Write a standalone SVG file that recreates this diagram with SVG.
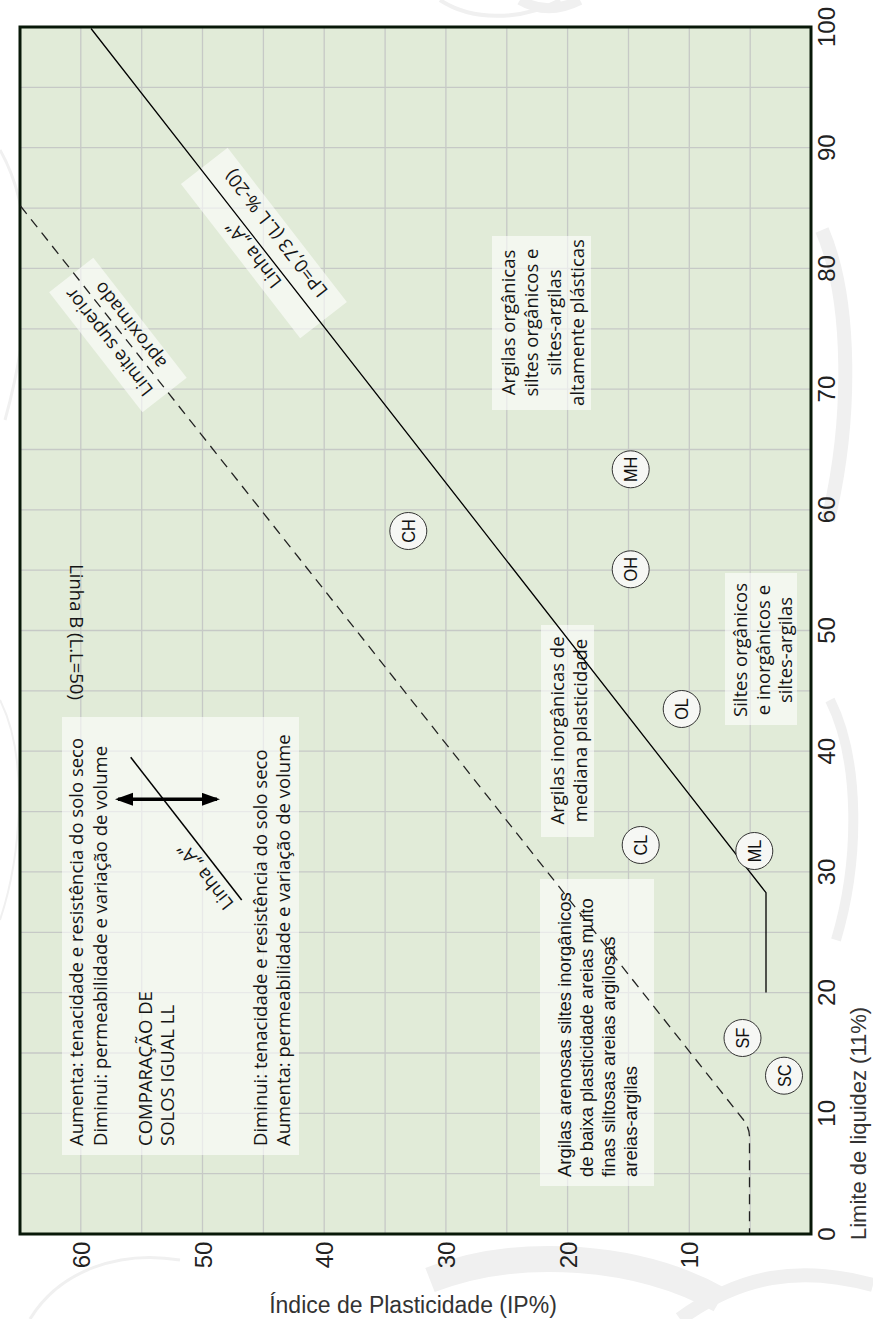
<svg xmlns="http://www.w3.org/2000/svg" width="873" height="1319" viewBox="0 0 873 1319">
<style>
.grid{stroke:#c6c9c6;stroke-width:1.3;fill:none}
.box{fill:#ffffff;fill-opacity:0.6}
.t{font-family:"Open Sans","Noto Sans",sans-serif;font-size:18.5px;fill:#151515}
.ta{font-family:"Liberation Sans",Arial,sans-serif;font-size:18.5px;fill:#151515}
.tick{font-family:"Liberation Sans",Arial,sans-serif;font-size:24px;fill:#222}
.title{font-family:"Liberation Sans",Arial,sans-serif;font-size:23px;fill:#333}
.circ{fill:#f6f7f4;stroke:#333;stroke-width:1}
.cl{font-family:"Liberation Sans",Arial,sans-serif;font-size:18.5px;fill:#111;text-anchor:middle}
.swirl{fill:none;stroke:#f0f0f0}
</style>
<defs>
<marker id="ah" markerUnits="userSpaceOnUse" markerWidth="20" markerHeight="14" refX="15" refY="6.5" orient="auto-start-reverse" viewBox="0 0 20 14">
<path d="M0,0 L18,6.5 L0,13 z" fill="#000"/>
</marker>
</defs>
<rect width="873" height="1319" fill="#ffffff"/>
<g id="background-swirls">
<path class="swirl" stroke-width="4" d="M440,0 C470,20 520,22 560,0"/>
<path class="swirl" stroke-width="10" d="M520,0 C540,12 560,10 580,0"/>
<path class="swirl" stroke-width="3" d="M0,150 C40,220 30,330 5,420"/>
<path class="swirl" stroke-width="2" d="M0,700 C30,760 20,860 0,920"/>
<path class="swirl" stroke-width="14" d="M822,230 C852,300 852,420 828,520"/>
<path class="swirl" stroke-width="10" d="M830,700 C860,760 860,860 836,940"/>
<path class="swirl" stroke-width="26" d="M430,1280 C520,1245 640,1255 720,1300"/>
<path class="swirl" stroke-width="3" d="M30,1319 C60,1270 120,1250 180,1260"/>
<path class="swirl" stroke-width="14" d="M680,1319 C740,1275 800,1265 873,1285"/>
</g>
<g id="plot">
<rect x="20" y="27" width="791" height="1207" fill="#e1ebd8"/>
<g id="grid" class="grid">
<path d="M750.2,27V1234M689.3,27V1234M628.5,27V1234M567.6,27V1234M506.8,27V1234M445.9,27V1234M385.1,27V1234M324.2,27V1234M263.4,27V1234M202.5,27V1234M141.7,27V1234M80.8,27V1234"/>
<path d="M20,1173.7H811M20,1113.3H811M20,1053H811M20,992.6H811M20,932.3H811M20,871.9H811M20,811.6H811M20,751.2H811M20,690.9H811M20,630.5H811M20,570.2H811M20,509.8H811M20,449.5H811M20,389.1H811M20,328.8H811M20,268.4H811M20,208.1H811M20,147.7H811M20,87.4H811"/>
</g>
<rect x="20" y="27" width="791" height="1207" fill="none" stroke="#081808" stroke-width="3"/>
</g>
<g id="axis-ll-labels" class="tick" text-anchor="middle">
<text transform="translate(835,1234) rotate(-90)">0</text>
<text transform="translate(835,1113.3) rotate(-90)">10</text>
<text transform="translate(835,992.6) rotate(-90)">20</text>
<text transform="translate(835,871.9) rotate(-90)">30</text>
<text transform="translate(835,751.2) rotate(-90)">40</text>
<text transform="translate(835,630.5) rotate(-90)">50</text>
<text transform="translate(835,509.8) rotate(-90)">60</text>
<text transform="translate(835,389.1) rotate(-90)">70</text>
<text transform="translate(835,268.4) rotate(-90)">80</text>
<text transform="translate(835,147.7) rotate(-90)">90</text>
<text transform="translate(835,27) rotate(-90)">100</text>
</g>
<g id="axis-ip-labels" class="tick" text-anchor="middle">
<text transform="translate(698.3,1255) rotate(-90)">10</text>
<text transform="translate(576.6,1255) rotate(-90)">20</text>
<text transform="translate(454.9,1255) rotate(-90)">30</text>
<text transform="translate(333.2,1255) rotate(-90)">40</text>
<text transform="translate(211.5,1255) rotate(-90)">50</text>
<text transform="translate(89.8,1255) rotate(-90)">60</text>
</g>
<g id="axis-titles" class="title">
<text x="413" y="1313" text-anchor="middle">Índice de Plasticidade (IP%)</text>
<text transform="translate(866,1240) rotate(-90)" font-size="22">Limite de liquidez (11%)</text>
</g>
<g id="box-comparacao">
<rect class="box" x="62" y="717" width="237" height="438"/>
<g class="t">
<text transform="translate(83,1146) rotate(-90)">Aumenta: tenacidade e resistência do solo seco</text>
<text transform="translate(106.5,1146) rotate(-90)">Diminui: permeabilidade e variação de volume</text>
<text transform="translate(151.5,1146) rotate(-90)">COMPARAÇÃO DE</text>
<text transform="translate(173.5,1146) rotate(-90)">SOLOS IGUAL LL</text>
<text transform="translate(266.5,1146) rotate(-90)">Diminui: tenacidade e resistência do solo seco</text>
<text transform="translate(289.5,1146) rotate(-90)">Aumenta: permeabilidade e variação de volume</text>
</g>
</g>
<g id="box-limite-superior">
<g transform="translate(117.9,335) rotate(232.1)">
<rect class="box" x="-76" y="-28" width="152" height="56"/>
<text class="t" x="0" y="-5" text-anchor="middle">Limite superior</text>
<text class="t" x="0" y="22" text-anchor="middle">aproximado</text>
</g>
</g>
<g id="box-linha-a">
<g transform="translate(263.9,243) rotate(232.3)">
<rect class="box" x="-97.5" y="-29.5" width="195" height="59"/>
<text class="t" x="-3" y="-9" text-anchor="middle">Linha „A“</text>
<text class="t" x="0" y="22" text-anchor="middle">LP=0,73 (L.L %-20)</text>
</g>
</g>
<g id="box-argilas-organicas">
<rect class="box" x="492" y="236" width="99" height="174"/>
<g class="t" text-anchor="middle">
<text transform="translate(515,322.5) rotate(-90)">Argilas orgânicas</text>
<text transform="translate(538,322.5) rotate(-90)">siltes orgânicos e</text>
<text transform="translate(561,322.5) rotate(-90)">siltes-argilas</text>
<text transform="translate(583.5,322.5) rotate(-90)">altamente plásticas</text>
</g>
</g>
<g id="box-argilas-inorganicas">
<rect class="box" x="541" y="625" width="53" height="212"/>
<g class="t" text-anchor="middle">
<text transform="translate(563.5,730.5) rotate(-90)">Argilas inorgânicas de</text>
<text transform="translate(586.5,730.5) rotate(-90)">mediana plasticidade</text>
</g>
</g>
<g id="box-siltes">
<rect class="box" x="725" y="573" width="72" height="152"/>
<g class="t" text-anchor="middle">
<text transform="translate(746.7,650) rotate(-90)">Siltes orgânicos</text>
<text transform="translate(769.5,650) rotate(-90)">e inorgânicos e</text>
<text transform="translate(792,650) rotate(-90)">siltes-argilas</text>
</g>
</g>
<g id="box-argilas-arenosas">
<rect class="box" x="540" y="879" width="114" height="307"/>
<g class="ta">
<text transform="translate(571,1177) rotate(-90)">Argilas arenosas siltes inorgânicos</text>
<text transform="translate(593,1177) rotate(-90)">de baixa plasticidade areias muito</text>
<text transform="translate(615,1177) rotate(-90)">finas siltosas areias argilosas</text>
<text transform="translate(637,1177) rotate(-90)">areias-argilas</text>
</g>
</g>
<g id="linha-b">
<text class="t" transform="translate(70,632) rotate(90)" text-anchor="middle">Linha B (L.L=50)</text>
</g>
<g id="connectors" fill="none">
<polyline id="linha-a" points="766,992.6 766,892.7 91,28.5" stroke="#000" stroke-width="1.3"/>
<path id="limite-superior" d="M20.5,206 L742,1118 Q749.5,1127 749.5,1137 L749.5,1233" stroke="#222" stroke-width="1.3" stroke-dasharray="10 7"/>
<line id="mini-linha-a" x1="130.7" y1="757.3" x2="241.7" y2="900" stroke="#000" stroke-width="1.5"/>
<line id="seta-dupla" x1="118" y1="799.3" x2="217" y2="799.3" stroke="#000" stroke-width="3.5" marker-start="url(#ah)" marker-end="url(#ah)"/>
</g>
<g id="mini-linha-a-label">
<text class="t" transform="translate(216.8,867.9) rotate(232.1)" x="0" y="-8" text-anchor="middle">Linha „A“</text>
</g>
<g id="node-CH"><circle class="circ" cx="408.3" cy="531" r="18.5"/><text class="cl" transform="translate(415,531) rotate(-90) scale(0.88,1)">CH</text></g>
<g id="node-MH"><circle class="circ" cx="630.7" cy="469.3" r="18.5"/><text class="cl" transform="translate(637.4,469.3) rotate(-90) scale(0.88,1)">MH</text></g>
<g id="node-OH"><circle class="circ" cx="630.7" cy="569.3" r="18.5"/><text class="cl" transform="translate(637.4,569.3) rotate(-90) scale(0.88,1)">OH</text></g>
<g id="node-OL"><circle class="circ" cx="681.7" cy="709" r="18.5"/><text class="cl" transform="translate(688.4,709) rotate(-90) scale(0.88,1)">OL</text></g>
<g id="node-CL"><circle class="circ" cx="640.7" cy="845" r="18.5"/><text class="cl" transform="translate(647.4,845) rotate(-90) scale(0.88,1)">CL</text></g>
<g id="node-ML"><circle class="circ" cx="754.3" cy="851" r="18.5"/><text class="cl" transform="translate(761,851) rotate(-90) scale(0.88,1)">ML</text></g>
<g id="node-SF"><circle class="circ" cx="742.5" cy="1038" r="18.5"/><text class="cl" transform="translate(749.2,1038) rotate(-90) scale(0.88,1)">SF</text></g>
<g id="node-SC"><circle class="circ" cx="784" cy="1075.7" r="18.5"/><text class="cl" transform="translate(790.7,1075.7) rotate(-90) scale(0.88,1)">SC</text></g>
</svg>
